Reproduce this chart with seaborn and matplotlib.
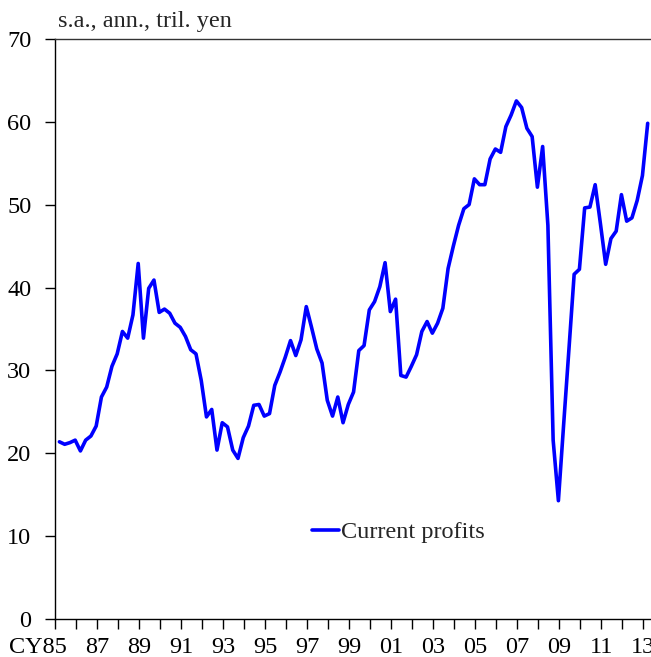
import matplotlib
matplotlib.use('Agg')
import matplotlib.pyplot as plt
import matplotlib.transforms as mtransforms
import seaborn as sns
import pandas as pd

# quarterly current profits, CY1985 Q1 - CY2013 Q1 (s.a., ann., tril. yen)
profits = [
    21.4, 21.1, 21.3, 21.6, 20.3, 21.6, 22.1, 23.3, 26.8, 28.0,
    30.5, 32.0, 34.7, 33.9, 36.7, 42.9, 33.9, 39.9, 40.9, 37.0,
    37.4, 36.9, 35.7, 35.2, 34.1, 32.5, 32.0, 28.8, 24.4, 25.3,
    20.4, 23.7, 23.2, 20.4, 19.4, 21.9, 23.3, 25.8, 25.9, 24.5,
    24.8, 28.2, 29.8, 31.6, 33.6, 31.8, 33.7, 37.7, 35.2, 32.6,
    30.9, 26.4, 24.5, 26.8, 23.7, 25.9, 27.4, 32.4, 33.0, 37.3,
    38.3, 40.1, 43.0, 37.1, 38.6, 29.4, 29.2, 30.5, 31.9, 34.7,
    35.9, 34.5, 35.7, 37.5, 42.3, 45.0, 47.5, 49.5, 50.0, 53.1,
    52.4, 52.4, 55.5, 56.7, 56.3, 59.4, 60.8, 62.5, 61.7, 59.2,
    58.2, 52.1, 57.0, 47.5, 21.6, 14.3, 23.5, 32.5, 41.6, 42.2,
    49.6, 49.7, 52.4, 47.7, 42.8, 45.9, 46.8, 51.2, 48.0, 48.4,
    50.5, 53.5, 59.8,
]
years = list(range(1985, 2014))
year_labels = ["CY85" if y == 1985 else (f"{y % 100:02d}" if y % 2 == 1 else "")
               for y in years]
series_name = "Current profits"

df = pd.DataFrame({
    "t": [1985.21 + i * 0.25 for i in range(len(profits))],
    "value": profits,
    "series": series_name,
})

sns.set_style("ticks")
plt.rcParams['font.family'] = ['Liberation Serif', 'DejaVu Serif']
plt.rcParams['font.size'] = 17.5

fig = plt.figure(figsize=(6.51, 6.57), dpi=100)
ax = fig.add_axes([55 / 651, 37.7 / 657, 596 / 651, 580.6 / 657])

sns.lineplot(data=df, x="t", y="value", hue="series", palette=["#0000FF"],
             linewidth=2.6, ax=ax)

ax.set_xlim(1985, 1985 + 596 / 21.01)
ax.set_ylim(0, 70)
ax.set_yticks(range(0, 71, 10))
ax.set_xticks(years)
ax.set_xticklabels(year_labels)
ax.set_xlabel("")
ax.set_ylabel("")

ax.tick_params(axis='y', direction='out', length=7, width=1, pad=10,
               colors='black', labelsize=17.5)
ax.tick_params(axis='x', direction='out', length=7, width=1, pad=6,
               colors='black', labelsize=17.5)
for s in ['left', 'bottom']:
    ax.spines[s].set_color('black')
    ax.spines[s].set_linewidth(1)
ax.spines['top'].set_color('#333333')
ax.spines['top'].set_linewidth(1)
ax.spines['right'].set_visible(False)

# shift the "CY85" label left like the original
first = ax.get_xticklabels()[0]
first.set_transform(first.get_transform() +
                    mtransforms.ScaledTranslation(-17 / 100, 0, fig.dpi_scale_trans))

leg = ax.legend(loc='center left', bbox_to_anchor=(0.431, 0.150), frameon=False,
                handlelength=1.1, handletextpad=0.08, borderpad=0, borderaxespad=0,
                fontsize=17.5)

fig.text(58 / 651, 1 - 27 / 657, "s.a., ann., tril. yen", fontsize=17.5,
         ha='left', va='baseline')

fig.savefig("out.png", dpi=100)
plt.close()
